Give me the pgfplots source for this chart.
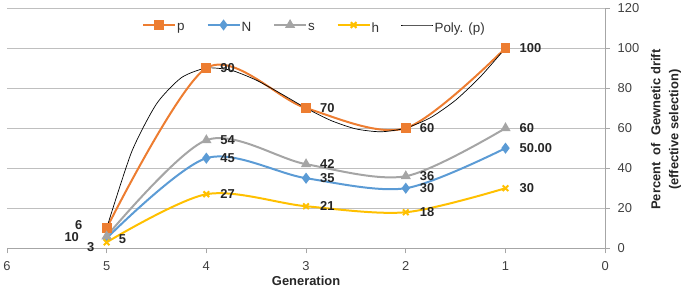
\documentclass[border=0pt]{standalone}
\usepackage{pgfplots}
\pgfplotsset{compat=1.18}
\usepackage{fontspec}
\setmainfont{Liberation Sans}
\definecolor{cP}{HTML}{ED7D31}
\definecolor{cN}{HTML}{5B9BD5}
\definecolor{cS}{HTML}{A5A5A5}
\definecolor{cH}{HTML}{FFC000}
\definecolor{gridc}{HTML}{BFBFBF}
\definecolor{axc}{HTML}{A6A6A6}
\begin{document}
\begin{tikzpicture}[x=1bp,y=1bp]
\path (-5,-41) rectangle (680,249);
\begin{axis}[
  at={(0,0)}, anchor=south west,
  scale only axis, width=600bp, height=241bp,
  xmin=0, xmax=6, ymin=0, ymax=120,
  x dir=reverse,
  xtick={0,1,2,3,4,5,6},
  ytick={0,20,40,60,80,100,120},
  axis x line*=bottom, axis y line*=right,
  axis line style={axc,-},
  tick style={axc, line width=0.6bp},
  tick align=outside, major tick length=5bp,
  ymajorgrids, grid style={gridc, line width=0.8bp},
  /pgf/number format/assume math mode=true,
  ticklabel style={font=\fontsize{13}{15}\selectfont, text=black!75},
  xticklabel style={yshift=-5bp},
  yticklabel style={xshift=4bp},
  legend style={at={(axis cs:2.92,110)}, anchor=center, draw=none, fill=none,
    font=\fontsize{13.5}{15}\selectfont, text=black!80, legend columns=-1,
    nodes={inner xsep=1bp}},
  legend cell align=left,
  legend image code/.code={\draw[mark repeat=2,mark phase=2,#1] plot coordinates {(0bp,3bp) (16bp,3bp) (32bp,3bp)};},
  /tikz/every even column/.append style={column sep=21bp},
  clip=false,
]
\addplot[cP, line width=2bp, smooth, mark=square*, mark size=4bp, mark options={solid}]
  coordinates {(5,10) (4,90) (3,70) (2,60) (1,100)};
\addlegendentry{p}
\addplot[cN, line width=2bp, smooth, mark=diamond*, mark size=4bp]
  coordinates {(5,5) (4,45) (3,35) (2,30) (1,50)};
\addlegendentry{N}
\addplot[cS, line width=2bp, smooth, mark=triangle*, mark size=4bp]
  coordinates {(5,6) (4,54) (3,42) (2,36) (1,60)};
\addlegendentry{s}
\addplot[cH, line width=2bp, smooth, mark=x, mark size=4bp]
  coordinates {(5,3) (4,27) (3,21) (2,18) (1,30)};
\addlegendentry{h}
\addplot[black, line width=0.7bp, smooth, tension=0.4, no marks]
  coordinates {(5,10) (4.75,48.02) (4.5,72.11) (4.25,85.21) (4,90) (3.75,88.88)
  (3.5,83.98) (3.25,77.16) (3,70) (2.75,63.80) (2.5,59.61) (2.25,58.18) (2,60)
  (1.75,65.29) (1.5,73.98) (1.25,85.76) (1,100)};
\addlegendentry{Poly. (p)}
\begin{scope}[every node/.style={font=\bfseries\fontsize{13}{15}\selectfont, text=black!85, anchor=west, inner sep=1bp, xshift=13bp}]
\node at (axis cs:4,90) {90};
\node at (axis cs:3,70) {70};
\node at (axis cs:2,60) {60};
\node at (axis cs:1,100) {100};
\node at (axis cs:4,54) {54};
\node at (axis cs:3,42) {42};
\node at (axis cs:2,36) {36};
\node at (axis cs:1,60) {60};
\node at (axis cs:4,45) {45};
\node at (axis cs:3,35) {35};
\node at (axis cs:2,30) {30};
\node at (axis cs:1,50) {50.00};
\node at (axis cs:4,27) {27};
\node at (axis cs:3,21) {21};
\node at (axis cs:2,18) {18};
\node at (axis cs:1,30) {30};
\end{scope}
\begin{scope}[every node/.style={font=\bfseries\fontsize{13}{15}\selectfont, text=black!85, anchor=center, inner sep=1bp}]
\node at (axis cs:5.28,11.5) {6};
\node at (axis cs:5.35,5.5) {10};
\node at (axis cs:5.16,0.5) {3};
\node at (axis cs:4.84,4.5) {5};
\end{scope}
\end{axis}
\node[font=\bfseries\fontsize{13}{15}\selectfont, text=black!85] at (300,-33) {Generation};
\node[rotate=90, align=center, font=\bfseries\fontsize{13}{18}\selectfont, text=black!85] at (661,119) {Percent \ of \ Gewnetic drift\\(effective selection)};
\end{tikzpicture}
\end{document}
